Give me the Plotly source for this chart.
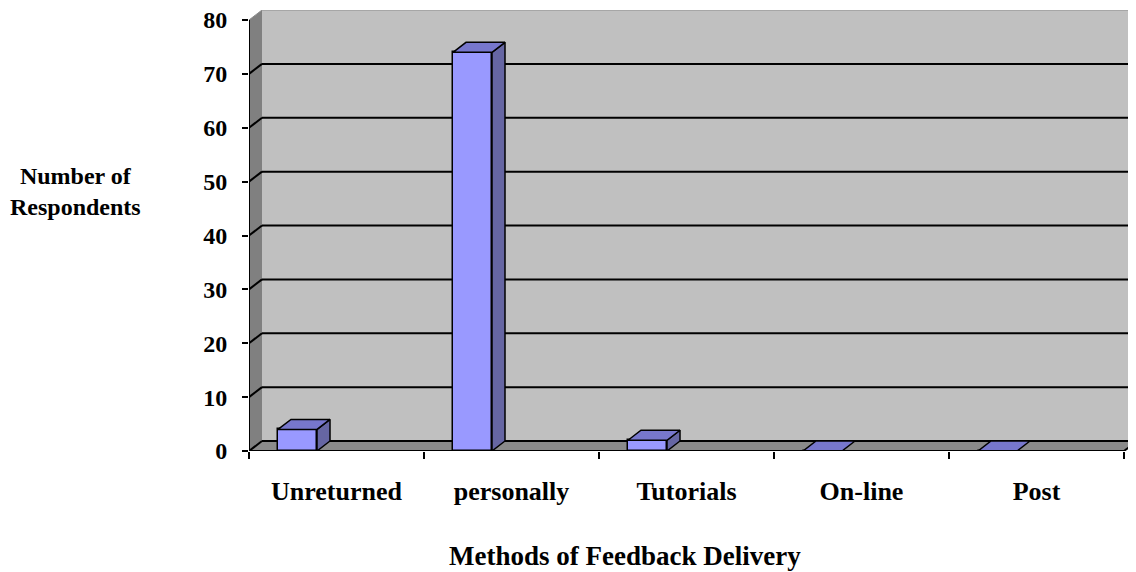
import plotly.graph_objects as go

# ---- data ----
categories = ["Unreturned", "personally", "Tutorials", "On-line", "Post"]
respondents = [4, 74, 2, 0, 0]
y_ticks = [0, 10, 20, 30, 40, 50, 60, 70, 80]
y_title = "Number of<br>Respondents"
x_title = "Methods of Feedback Delivery"

# ---- styling / geometry constants ----
OFF = 8                      # default page body margin
W, H = 1136 - OFF, 572 - OFF
ML, MT, MB = 249 - OFF, 10 - OFF, 121
PX_PER_CAT = 175.0
PX_PER_UNIT = 431.0 / 80.0
DX = 13.0 / PX_PER_CAT          # depth offset (x, data units)
DY = 10.0 / PX_PER_UNIT         # depth offset (y, data units)
BAR_LEFT = 29.0 / PX_PER_CAT
BAR_W = 39.0 / PX_PER_CAT
FONT = "Liberation Serif"

n = len(categories)
ymax = y_ticks[-1]
plot_w = W - ML
plot_h = H - MT - MB
x_range = [0, plot_w / PX_PER_CAT]
y_range = [0, plot_h / PX_PER_UNIT]

WALL = "#C0C0C0"
SIDE = "#808080"
FLOOR = "#8A8A8A"
BAR_FRONT = "#9999FF"
BAR_TOP = "#7777CC"
BAR_SIDE = "#6666A3"

fig = go.Figure()

def poly(xs, ys, color):
    return go.Scatter(x=xs + [xs[0]], y=ys + [ys[0]], mode="lines", fill="toself",
                      fillcolor=color, line=dict(color="black", width=1.5),
                      hoverinfo="skip", showlegend=False)

# front faces of bars
xs_left = [i + BAR_LEFT for i in range(n)]
fig.add_trace(go.Bar(x=[x + BAR_W / 2 for x in xs_left], y=respondents, width=BAR_W,
                     marker=dict(color=BAR_FRONT, line=dict(color="black", width=1.5)),
                     hoverinfo="skip", showlegend=False))
# side and top faces
for x0, v in zip(xs_left, respondents):
    x1 = x0 + BAR_W
    if v > 0:
        fig.add_trace(poly([x1, x1 + DX, x1 + DX, x1], [0, DY, v + DY, v], BAR_SIDE))
    fig.add_trace(poly([x0, x1, x1 + DX, x0 + DX], [v, v, v + DY, v + DY], BAR_TOP))

shapes = []
# back wall
shapes.append(dict(type="rect", xref="x", yref="y", x0=DX, x1=n + DX, y0=DY, y1=ymax + DY,
                   fillcolor=WALL, line=dict(width=0), layer="below"))
# left side wall
shapes.append(dict(type="path", xref="x", yref="y",
                   path=f"M 0 0 L {DX} {DY} L {DX} {ymax + DY} L 0 {ymax} Z",
                   fillcolor=SIDE, line=dict(width=0), layer="below"))
# floor
shapes.append(dict(type="path", xref="x", yref="y",
                   path=f"M 0 0 L {n} 0 L {n + DX} {DY} L {DX} {DY} Z",
                   fillcolor=FLOOR, line=dict(width=0), layer="below"))
# gridlines
for v in y_ticks:
    col = "black" if v < ymax else "#8C8C8C"
    wdt = 2 if v < ymax else 1
    shapes.append(dict(type="line", xref="x", yref="y", x0=DX, x1=n + DX, y0=v + DY, y1=v + DY,
                       line=dict(color=col, width=wdt), layer="below"))
    shapes.append(dict(type="line", xref="x", yref="y", x0=0, x1=DX, y0=v, y1=v + DY,
                       line=dict(color=col, width=wdt), layer="below"))
# axis lines
shapes.append(dict(type="line", xref="x", yref="y", x0=0, x1=0, y0=0, y1=ymax,
                   line=dict(color="black", width=2), layer="above"))
shapes.append(dict(type="line", xref="x", yref="y", x0=0, x1=n, y0=0, y1=0,
                   line=dict(color="black", width=2), layer="above"))
shapes.append(dict(type="line", xref="x", yref="y", x0=n, x1=n + DX, y0=0, y1=DY,
                   line=dict(color="black", width=2), layer="above"))

fig.update_layout(
    width=W, height=H,
    margin=dict(l=ML, r=0, t=MT, b=MB),
    plot_bgcolor="white", paper_bgcolor="white",
    shapes=shapes,
    xaxis=dict(range=x_range, showgrid=False, zeroline=False, showline=False,
               tickmode="array", tickvals=[i + 0.5 for i in range(n)], ticktext=categories,
               ticks="", ticklabelstandoff=22,
               tickfont=dict(family=FONT, size=26, color="black", weight="bold"),
               minor=dict(tickmode="array", tickvals=list(range(n + 1)), ticks="outside",
                          ticklen=7, tickwidth=2, tickcolor="black", showgrid=False)),
    yaxis=dict(range=y_range, showgrid=False, zeroline=False, showline=False,
               tickmode="array", tickvals=y_ticks, ticks="outside", ticklen=6, tickwidth=2,
               tickcolor="black", ticklabelstandoff=10, ticklabeloverflow="allow",
               tickfont=dict(family=FONT, size=24, color="black", weight="bold")),
    annotations=[
        dict(text=y_title, xref="paper", yref="paper", x=(75 - OFF - ML) / plot_w,
             y=(H - MB - (191 - OFF)) / plot_h, showarrow=False, xanchor="center",
             yanchor="middle",
             font=dict(family=FONT, size=24, color="black", weight="bold")),
        dict(text=x_title, xref="paper", yref="paper", x=(625 - OFF - ML) / plot_w,
             y=(H - MB - (556 - OFF)) / plot_h, showarrow=False, xanchor="center",
             yanchor="middle",
             font=dict(family=FONT, size=27, color="black", weight="bold")),
    ],
    bargap=0,
)

fig.write_html("out.html")
